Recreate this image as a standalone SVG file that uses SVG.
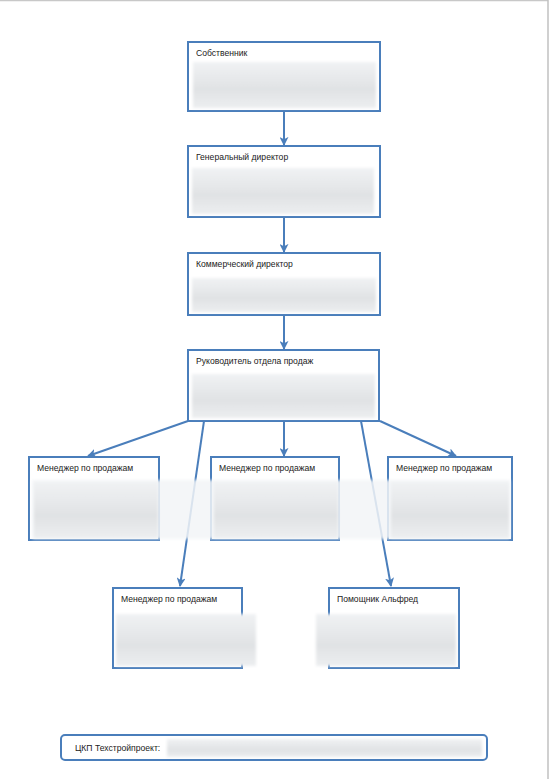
<svg xmlns="http://www.w3.org/2000/svg" width="550" height="779" viewBox="0 0 550 779">
<style>
.box{fill:#fff;stroke:#4a7ebb;stroke-width:2}
.t{font-family:"Liberation Sans",Arial,sans-serif;font-size:8.6px;fill:#222}
.c{stroke:#4a7ebb;stroke-width:2;fill:none;marker-end:url(#ah)}
.bl{fill:url(#g);filter:url(#f)}
</style>
<defs>
<marker id="ah" viewBox="0 0 10 10" refX="9" refY="5" markerWidth="4.5" markerHeight="4.5" orient="auto" markerUnits="strokeWidth">
<path d="M0,0 L10,5 L0,10 L2.5,5 z" fill="#4a7ebb"/>
</marker>
<linearGradient id="g" x1="0" y1="0" x2="0" y2="1">
<stop offset="0" stop-color="#f0f2f4"/>
<stop offset="0.6" stop-color="#e0e2e4"/>
<stop offset="1" stop-color="#eceef0"/>
</linearGradient>
<filter id="f" x="-5%" y="-10%" width="110%" height="120%"><feGaussianBlur stdDeviation="1.5"/></filter>
</defs>
<rect x="0" y="0" width="550" height="779" fill="#fff"/>
<line x1="0" y1="0.5" x2="548" y2="0.5" stroke="#c8c8c8" stroke-width="1.5"/>
<line x1="548" y1="0" x2="548" y2="779" stroke="#c0c0c0" stroke-width="1.5"/>
<g id="connectors">
<line class="c" x1="284" y1="111" x2="284" y2="145"/>
<line class="c" x1="284" y1="217" x2="284" y2="252"/>
<line class="c" x1="284" y1="315" x2="284" y2="349"/>
<line class="c" x1="188" y1="421" x2="88" y2="456"/>
<line class="c" x1="204" y1="421" x2="180" y2="586"/>
<line class="c" x1="284" y1="421" x2="284" y2="456"/>
<line class="c" x1="361" y1="421" x2="391" y2="586"/>
<line class="c" x1="380" y1="421" x2="456" y2="456"/>
</g>
<g id="n1"><rect class="box" x="188" y="42" width="192" height="69"/><text class="t" x="196" y="56">Собственник</text><rect class="bl" x="193" y="62" width="183" height="46"/></g>
<g id="n2"><rect class="box" x="188" y="146" width="192" height="71"/><text class="t" x="196" y="160">Генеральный директор</text><rect class="bl" x="192" y="168" width="182" height="46"/></g>
<g id="n3"><rect class="box" x="188" y="253" width="192" height="62"/><text class="t" x="196" y="267">Коммерческий директор</text><rect class="bl" x="192" y="278" width="184" height="34"/></g>
<g id="n4"><rect class="box" x="188" y="350" width="191" height="71"/><text class="t" x="196" y="364">Руководитель отдела продаж</text><rect class="bl" x="192" y="374" width="183" height="44"/></g>
<g id="n5"><rect class="box" x="29" y="457" width="130" height="83"/><text class="t" x="37" y="471">Менеджер по продажам</text></g>
<g id="n6"><rect class="box" x="211" y="457" width="128" height="83"/><text class="t" x="219" y="471">Менеджер по продажам</text></g>
<g id="n7"><rect class="box" x="388" y="457" width="124" height="83"/><text class="t" x="396" y="471">Менеджер по продажам</text></g>
<rect x="32" y="480" width="478" height="59" fill="#f3f5f7" opacity="0.85" filter="url(#f)"/>
<rect class="bl" x="34" y="482" width="124" height="56"/>
<rect class="bl" x="214" y="482" width="124" height="56"/>
<rect class="bl" x="391" y="482" width="118" height="56"/>
<g id="n8"><rect class="box" x="113" y="588" width="129" height="80"/><text class="t" x="121" y="602">Менеджер по продажам</text><rect class="bl" x="116" y="614" width="140" height="52"/></g>
<g id="n9"><rect class="box" x="329" y="588" width="130" height="80"/><text class="t" x="337" y="602">Помощник Альфред</text><rect class="bl" x="316" y="614" width="140" height="52"/></g>
<g id="footer"><rect x="61" y="735" width="426" height="25" rx="4" fill="#fff" stroke="#4a7ebb" stroke-width="2"/><text class="t" x="75" y="751">ЦКП Техстройпроект:</text><rect class="bl" x="167" y="739" width="315" height="18"/></g>
</svg>
